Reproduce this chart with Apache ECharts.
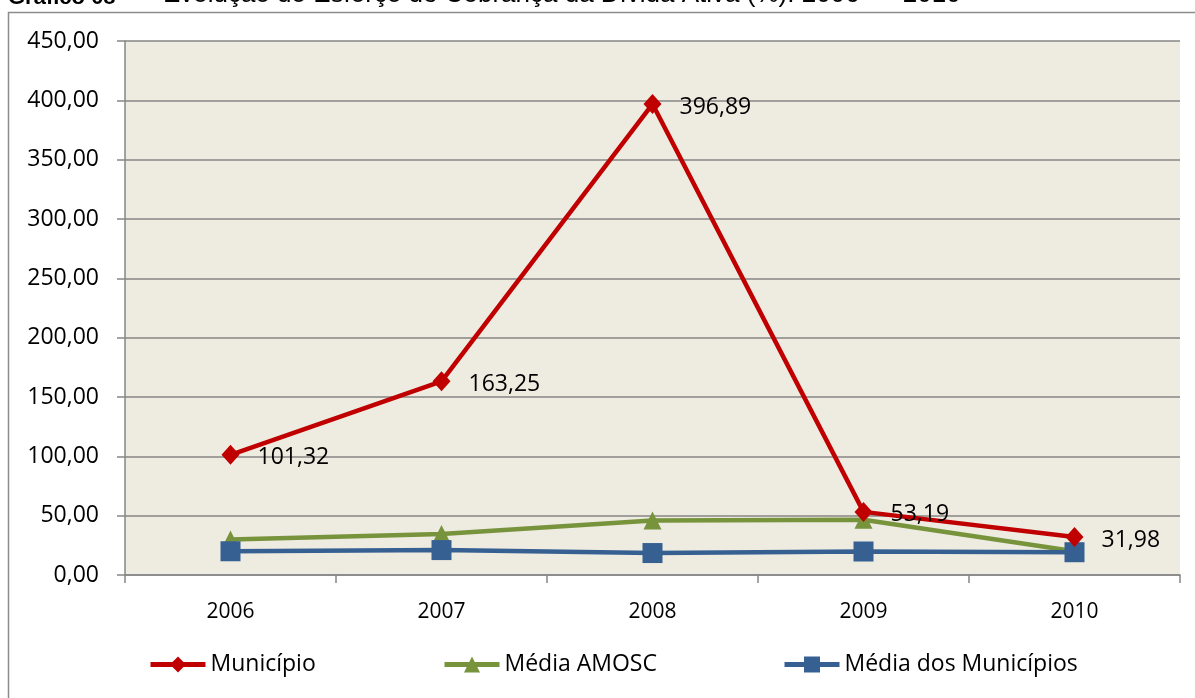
<!DOCTYPE html>
<html>
<head>
<meta charset="utf-8">
<script src="https://cdn.jsdelivr.net/npm/echarts@6/dist/echarts.min.js"></script>
<style>
  html, body { margin: 0; padding: 0; background: #fff; }
  #main { width: 1195px; height: 698px; }
</style>
</head>
<body>
<div id="main"></div>
<script>
var chartDom = document.getElementById('main');
var myChart = echarts.init(chartDom);
var option;

var anos = ['2006', '2007', '2008', '2009', '2010'];
var municipio = [101.32, 163.25, 396.89, 53.19, 31.98];
var mediaAmosc = [30.0, 34.5, 46.0, 46.5, 20.0];
var mediaMunicipios = [20.0, 21.0, 18.5, 19.8, 19.2];

function virgula(v) {
  return v.toFixed(2).replace('.', ',');
}

var fonte = '"Open Sans", sans-serif';
var arial = '"Liberation Sans", Arial, sans-serif';

function legenda(nome, x) {
  return {
    data: [nome],
    left: x, top: 653,
    padding: 0,
    itemWidth: 55, itemHeight: 20,
    lineStyle: { width: 5 },
    textStyle: { fontSize: 23, fontFamily: fonte, color: '#000' }
  };
}

option = {
  animation: false,
  graphic: [
    {
      type: 'rect',
      shape: { x: 8.5, y: 12.5, width: 1300, height: 800 },
      style: { fill: 'none', stroke: '#8c8c8c', lineWidth: 1.5 },
      silent: true
    },
    {
      type: 'text',
      left: 8,
      top: -13,
      style: {
        text: 'Gráfico 08',
        font: 'bold 22px "Liberation Sans", Arial, sans-serif',
        fill: '#000'
      }
    },
    {
      type: 'text',
      left: 134,
      top: -18,
      style: {
        text: '–  Evolução do Esforço de Cobrança da Dívida Ativa (%): 2006  –  2010',
        font: '26px "Liberation Sans", Arial, sans-serif',
        fill: '#000'
      }
    }
  ],
  legend: [
    legenda('Município', 148),
    legenda('Média AMOSC', 442),
    legenda('Média dos Municípios', 782)
  ],
  grid: {
    left: 125, right: 15, top: 41, bottom: 123,
    show: true,
    backgroundColor: '#EEEBE0',
    borderWidth: 0
  },
  xAxis: {
    type: 'category',
    data: anos,
    boundaryGap: true,
    axisLine: { lineStyle: { color: '#868686', width: 1.5 } },
    axisTick: { show: true, length: 8, lineStyle: { color: '#868686', width: 1.5 } },
    axisLabel: { color: '#000', fontSize: 21, fontFamily: fonte, margin: 27 }
  },
  yAxis: {
    type: 'value',
    min: 0, max: 450, interval: 50,
    axisLine: { show: true, lineStyle: { color: '#868686', width: 1.5 } },
    axisTick: { show: true, length: 8, lineStyle: { color: '#868686', width: 1.5 } },
    splitLine: { lineStyle: { color: '#868686', width: 1.5 } },
    axisLabel: {
      color: '#000', fontSize: 23, fontFamily: fonte, margin: 26,
      formatter: function (v) { return virgula(v); }
    }
  },
  series: [
    {
      name: 'Média dos Municípios',
      type: 'line',
      data: mediaMunicipios,
      color: '#376092',
      symbol: 'rect',
      symbolSize: 20,
      lineStyle: { width: 4.5 },
      z: 2
    },
    {
      name: 'Média AMOSC',
      type: 'line',
      data: mediaAmosc,
      color: '#77933C',
      symbol: 'triangle',
      symbolSize: 18,
      lineStyle: { width: 4.5 },
      z: 1
    },
    {
      name: 'Município',
      type: 'line',
      data: municipio,
      color: '#C00000',
      symbol: 'diamond',
      symbolSize: [18, 20],
      lineStyle: { width: 4.5 },
      z: 3,
      label: {
        show: true,
        position: 'right',
        distance: 18,
        offset: [0, 3],
        color: '#000',
        fontSize: 23,
        fontFamily: fonte,
        formatter: function (p) { return virgula(p.value); }
      }
    }
  ]
};

option && myChart.setOption(option);
</script>
</body>
</html>
